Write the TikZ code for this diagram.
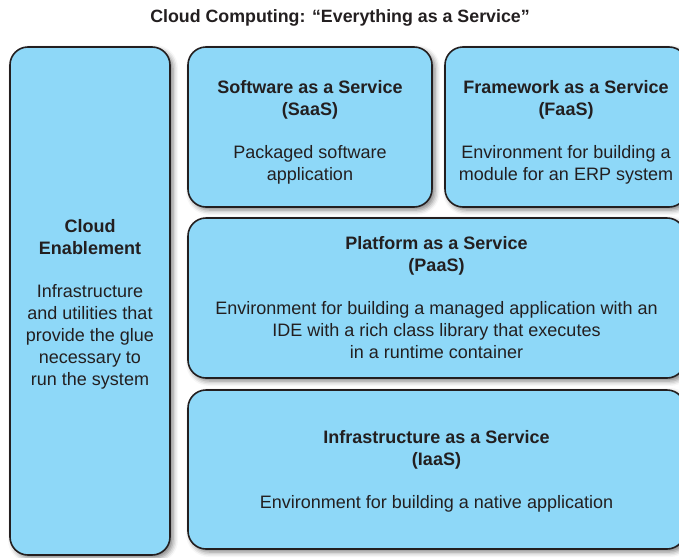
\documentclass[tikz,border=0pt]{standalone}
\usepackage{fontspec}
\setmainfont{Liberation Sans}
\usetikzlibrary{shadows.blur}
\definecolor{boxfill}{HTML}{8ED8F8}
\definecolor{ink}{HTML}{231F20}
\begin{document}
\begin{tikzpicture}[x=1pt,y=-1pt,
  panel/.style={draw=ink, line width=1.6pt, fill=boxfill, rounded corners=18pt,
    blur shadow={shadow xshift=3pt, shadow yshift=-3pt, shadow blur radius=5pt, shadow opacity=50},
    inner sep=0pt},
  paneltext/.style={inner sep=0pt, text=ink, align=center, font=\fontsize{18}{22}\selectfont},
  heading/.style={text=ink, font=\bfseries\fontsize{17.8}{20}\selectfont}
]
\useasboundingbox (0,0) rectangle (679,557);
\node[heading] (title) at (340,18) {Cloud Computing: “Everything as a Service”};
\node[panel, minimum width=160pt, minimum height=508pt] (cloud) at (90,301) {};
\node[panel, minimum width=244pt, minimum height=160pt] (saas) at (310,127) {};
\node[panel, minimum width=242pt, minimum height=160pt] (faas) at (566,127) {};
\node[panel, minimum width=497pt, minimum height=160pt] (paas) at (436.5,298) {};
\node[panel, minimum width=497pt, minimum height=159pt] (iaas) at (436.5,469.5) {};
\node[paneltext] (cloudt) at ([yshift=-3pt]cloud.center)
  {\textbf{Cloud}\\\textbf{Enablement}\\[21pt]Infrastructure\\and utilities that\\provide the glue\\necessary to\\run the system};
\node[paneltext] (saast) at ([yshift=-5pt]saas.center)
  {\textbf{Software as a Service}\\\textbf{(SaaS)}\\[21pt]Packaged software\\application};
\node[paneltext] (faast) at ([yshift=-5pt]faas.center)
  {\textbf{Framework as a Service}\\\textbf{(FaaS)}\\[21pt]Environment for building a\\module for an ERP system};
\node[paneltext] (paast) at (paas.center)
  {\textbf{Platform as a Service}\\\textbf{(PaaS)}\\[21pt]Environment for building a managed application with an\\IDE with a rich class library that executes\\in a runtime container};
\node[paneltext] (iaast) at ([yshift=-2pt]iaas.center)
  {\textbf{Infrastructure as a Service}\\\textbf{(IaaS)}\\[21pt]Environment for building a native application};
\end{tikzpicture}
\end{document}
